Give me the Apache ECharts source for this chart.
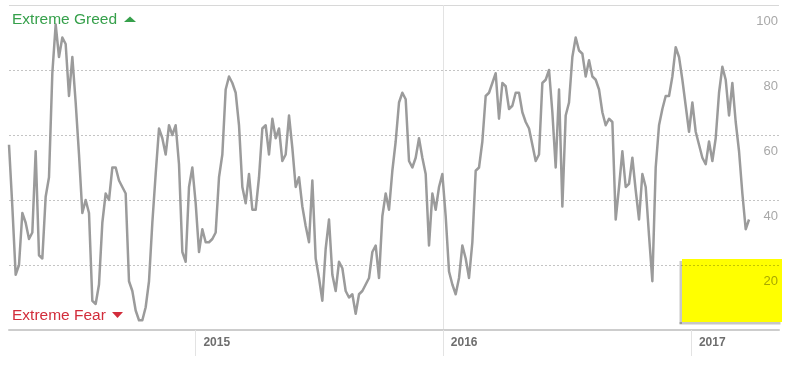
<!DOCTYPE html>
<html>
<head>
<meta charset="utf-8">
<script src="https://cdn.jsdelivr.net/npm/echarts@6/dist/echarts.min.js"></script>
<style>
html,body{margin:0;padding:0;background:#fff;}
#chart{width:791px;height:368px;}
</style>
</head>
<body>
<div id="chart"></div>
<script>
// Fear & Greed index, sampled roughly every 4.9 days from 1 Apr 2014
const dataStartUTC = Date.UTC(2014, 3, 1);
const stepDays = 4.918;
const fgValues = [
  57,38,17,20,36,33,28,30,55,23,22,41,47,79,94,84,90,88,72,84,
  70,54,36,40,36,9,8,14,33,42,40,50,50,46,44,42,15,12,6,3,
  3,7,15,33,48,62,59,54,63,60,63,51,24,21,44,50,39,24,31,27,
  27,28,30,47,54,74,78,76,73,63,44,39,48,37,37,47,62,63,54,65,
  59,62,52,54,66,56,44,47,38,32,27,46,22,16,9,25,34,17,12,21,
  19,12,10,11,5,11,12,14,16,24,26,16,35,42,37,49,58,70,73,71,
  52,50,53,59,53,48,26,42,37,44,48,35,18,14,11,16,26,22,16,27,
  49,50,58,72,73,76,79,65,76,75,68,69,73,73,67,64,62,57,52,54,
  76,77,80,67,50,74,38,66,70,84,90,86,85,78,83,78,77,74,67,63,
  65,64,34,44,55,44,45,53,43,34,48,44,29,15,50,63,68,72,72,78,
  87,84,77,69,61,70,61,57,53,51,58,52,59,73,81,77,66,76,64,55,
  42,31,34
];
const axisMinDate = Date.UTC(2014, 3, 1);
const axisMaxDate = Date.UTC(2017, 4, 11);
const yearTicks = [Date.UTC(2015,0,1), Date.UTC(2016,0,1), Date.UTC(2017,0,1)];
const yTickValues = [0, 20, 40, 60, 80, 100];

const DAY = 86400000;
const seriesData = fgValues.map((v, i) => [dataStartUTC + i * stepDays * DAY, v]);

const chart = echarts.init(document.getElementById('chart'), null, {renderer: 'canvas'});
chart.setOption({
  animation: false,
  backgroundColor: '#fff',
  grid: {left: 9, right: 12, top: 5, bottom: 38, containLabel: false},
  xAxis: [{
    type: 'value',
    min: axisMinDate,
    max: axisMaxDate,
    position: 'bottom',
    axisLine: {show: false},
    axisTick: {show: true, customValues: yearTicks, length: 26, inside: false,
               lineStyle: {color: '#e3e3e3', width: 1}},
    splitLine: {show: true, showMinLine: false, showMaxLine: false,
                lineStyle: {color: '#e3e3e3', width: 1}},
    axisLabel: {
      customValues: yearTicks,
      formatter: v => String(new Date(v).getUTCFullYear()),
      align: 'left', padding: [0,0,0,8], margin: 7,
      color: '#6e6e6e', fontSize: 12, fontWeight: 'bold',
      fontFamily: 'Liberation Sans, Arial, sans-serif'
    }
  }, {
    type: 'value',
    min: axisMinDate,
    max: axisMaxDate,
    position: 'bottom',
    offset: 26,
    axisLine: {show: true, lineStyle: {color: '#cdcdcd', width: 2}},
    axisTick: {show: false},
    axisLabel: {show: false},
    splitLine: {show: false}
  }],
  yAxis: [{
    type: 'value',
    min: yTickValues[0],
    max: yTickValues[yTickValues.length - 1],
    interval: 20,
    position: 'right',
    axisLine: {show: false},
    axisTick: {show: false},
    splitLine: {show: true, showMinLine: false, showMaxLine: false,
                lineStyle: {color: '#c4c4c4', type: [2, 2], width: 1}},
    axisLabel: {
      inside: true, margin: 1,
      formatter: v => (v === 0 ? '' : String(v)),
      verticalAlign: 'top', padding: [9,0,0,0], lineHeight: 14,
      color: '#a8a8a8', fontSize: 13,
      fontFamily: 'Liberation Sans, Arial, sans-serif'
    }
  }, {
    type: 'value',
    min: 0, max: 100, interval: 100,
    position: 'left',
    axisLine: {show: false},
    axisTick: {show: false},
    axisLabel: {show: false},
    splitLine: {show: true, lineStyle: {color: '#d8d8d8', width: 1}}
  }],
  series: [{
    type: 'line',
    data: seriesData,
    xAxisIndex: 0,
    yAxisIndex: 0,
    showSymbol: false,
    symbol: 'none',
    lineStyle: {color: '#9b9b9b', width: 2.5, join: 'round'},
    z: 3
  }],
  graphic: [
    {type: 'text', left: 12, top: 12, z: 50,
     style: {text: 'Extreme Greed', fill: '#36a04b', fontSize: 15.5,
             fontFamily: 'Liberation Sans, Arial, sans-serif'}},
    {type: 'polygon', z: 50, shape: {points: [[124,22],[136,22],[130,16.5]]},
     style: {fill: '#36a04b'}},
    {type: 'text', left: 12, top: 308, z: 50,
     style: {text: 'Extreme Fear', fill: '#d22d3b', fontSize: 15.5,
             fontFamily: 'Liberation Sans, Arial, sans-serif'}},
    {type: 'polygon', z: 50, shape: {points: [[112,312],[123,312],[117.5,318]]},
     style: {fill: '#d22d3b'}},
    // soft shadow strips on the left and bottom edges of the highlight
    {type: 'rect', z: 99, shape: {x: 679.5, y: 261, width: 2.5, height: 63},
     style: {fill: 'rgba(0,0,0,0.22)'}},
    {type: 'rect', z: 99, shape: {x: 679.5, y: 322, width: 101, height: 2.5},
     style: {fill: 'rgba(0,0,0,0.22)'}},
    {type: 'rect', z: 100, shape: {x: 682, y: 259, width: 100, height: 63},
     style: {fill: '#ffff00', blend: 'multiply'}}
  ]
});
</script>
</body>
</html>
